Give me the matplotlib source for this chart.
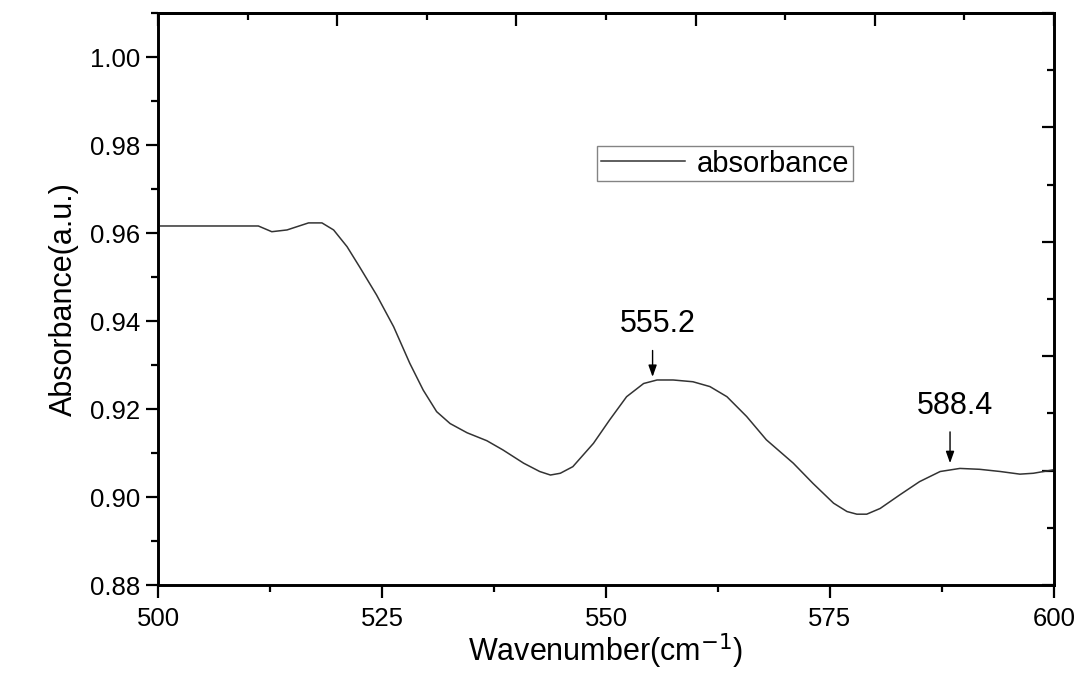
import numpy as np
import matplotlib
matplotlib.use("Agg")
import matplotlib.pyplot as plt
from matplotlib.ticker import MultipleLocator

plt.rcParams['font.family'] = ['Liberation Sans', 'DejaVu Sans']

# spectrum
wavenumber = [500.0, 511.2, 512.7, 514.4, 516.8, 518.3, 519.6, 521.1, 522.5, 524.4,
              526.3, 528.1, 529.6, 531.1, 532.6, 534.5, 536.7, 538.5, 540.8, 542.6,
              543.8, 544.9, 546.3, 548.6, 550.4, 552.3, 554.2, 555.7, 557.5, 559.7,
              561.6, 563.5, 565.7, 567.9, 570.9, 573.1, 575.4, 576.9, 578.0, 579.1,
              580.6, 582.8, 585.0, 587.3, 589.5, 591.7, 594.0, 596.2, 597.7, 600.0]
absorbance = [0.9616, 0.9616, 0.9603, 0.9607, 0.9623, 0.9623, 0.9607, 0.9569, 0.9523, 0.9459,
              0.9387, 0.9304, 0.9243, 0.9194, 0.9167, 0.9146, 0.9128, 0.9107, 0.9077, 0.9058,
              0.9050, 0.9054, 0.9069, 0.9122, 0.9175, 0.9228, 0.9258, 0.9266, 0.9266, 0.9262,
              0.9251, 0.9228, 0.9183, 0.9130, 0.9077, 0.9031, 0.8986, 0.8967, 0.8961, 0.8961,
              0.8974, 0.9005, 0.9035, 0.9058, 0.9065, 0.9063, 0.9058, 0.9052, 0.9054, 0.9062]

# peak labels: (label, x, arrow tip y, arrow tail y, text y)
peaks = [("555.2", 555.2, 0.9273, 0.9333, 0.9394),
         ("588.4", 588.4, 0.9077, 0.9148, 0.9208)]

fig = plt.figure(figsize=(10.8, 6.75), dpi=100)
ax = fig.add_axes([0.1463, 0.1333, 0.8296, 0.8474])

ax.plot(wavenumber, absorbance, color='#333333', lw=1.1, label='absorbance')

ax.set_xlim(500, 600)
ax.set_ylim(0.88, 1.01)
ax.xaxis.set_major_locator(MultipleLocator(25))
ax.xaxis.set_minor_locator(MultipleLocator(12.5))
ax.yaxis.set_major_locator(MultipleLocator(0.02))
ax.yaxis.set_minor_locator(MultipleLocator(0.01))
ax.yaxis.set_major_formatter(matplotlib.ticker.FormatStrFormatter('%.2f'))

ax.tick_params(which='both', direction='out', top=False, right=False, width=1.6)
ax.tick_params(which='major', length=9, labelsize=18.5)
ax.tick_params(axis='x', which='major', pad=7)
ax.tick_params(axis='y', which='major', pad=4)
ax.tick_params(which='minor', length=5)
for s in ax.spines.values():
    s.set_linewidth(1.9)

# top axis with its own ticks (inward)
top = ax.secondary_xaxis('top')
top.xaxis.set_major_locator(MultipleLocator(20))
top.xaxis.set_minor_locator(MultipleLocator(10))
top.tick_params(which='both', direction='in', width=1.6, labeltop=False)
top.tick_params(which='major', length=9)
top.tick_params(which='minor', length=5)
top.spines['top'].set_linewidth(1.9)

# right axis divided into five parts (inward)
right = ax.twinx()
right.set_ylim(0, 5)
right.yaxis.set_major_locator(MultipleLocator(1))
right.yaxis.set_minor_locator(MultipleLocator(0.5))
right.tick_params(which='both', direction='in', width=1.6, labelright=False)
right.tick_params(which='major', length=9)
right.tick_params(which='minor', length=5)
for s in right.spines.values():
    s.set_linewidth(1.9)

ax.set_xlabel('Wavenumber(cm$^{-1}$)', fontsize=22, labelpad=0)
ax.set_ylabel('Absorbance(a.u.)', fontsize=22, labelpad=8)

for label, x, tip, tail, ty in peaks:
    ax.annotate('', xy=(x, tip), xytext=(x, tail),
                arrowprops=dict(arrowstyle='-|>,head_length=0.7,head_width=0.25',
                                color='black', lw=1.0, shrinkA=0, shrinkB=0))
    ax.text(x + 0.6, ty, label, fontsize=22, ha='center', va='center')

leg = ax.legend(loc='upper left', bbox_to_anchor=(0.49, 0.7675), fontsize=21,
                frameon=True, fancybox=False, edgecolor='#666666', borderaxespad=0,
                borderpad=0.12, handlelength=2.9, handletextpad=0.4)
leg.get_frame().set_linewidth(1.0)
ax.set_zorder(right.get_zorder() + 1)
ax.patch.set_visible(False)

fig.savefig('out.png', dpi=100)
